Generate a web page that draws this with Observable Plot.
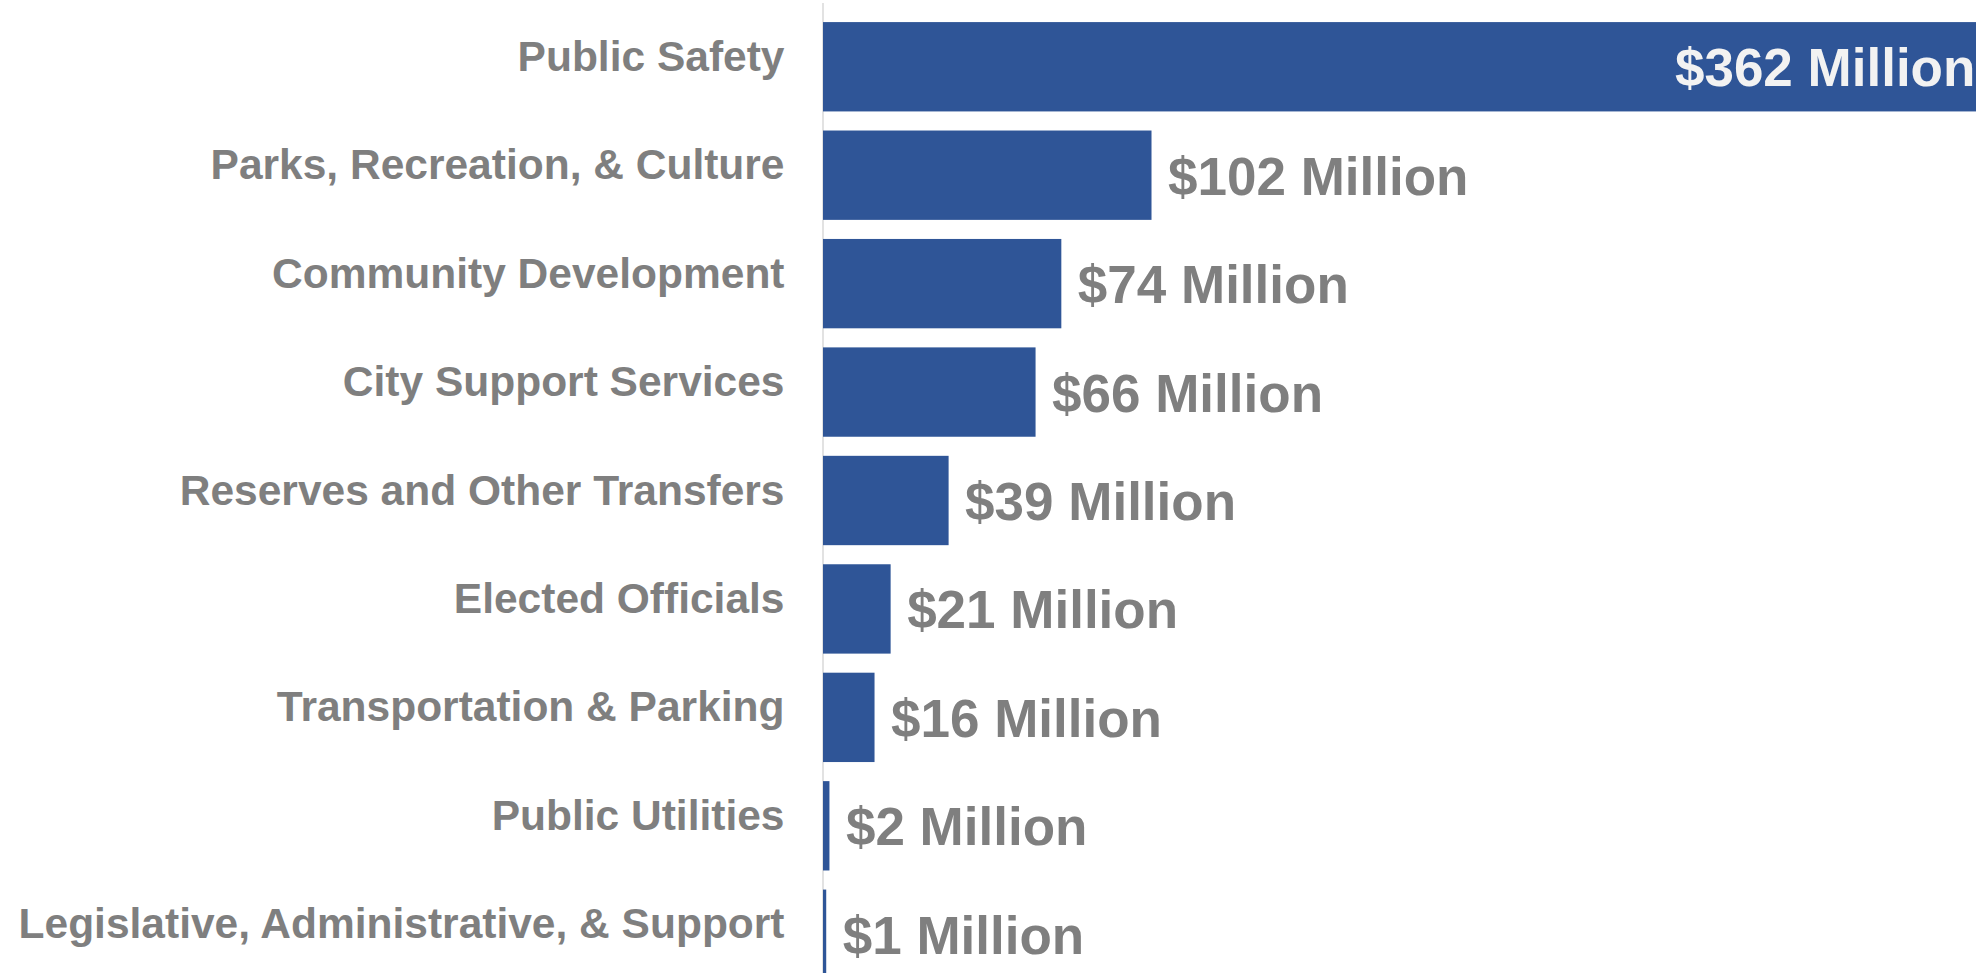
<!DOCTYPE html>
<html><head><meta charset="utf-8">
<script src="https://cdn.jsdelivr.net/npm/d3@7"></script>
<script src="https://cdn.jsdelivr.net/npm/@observablehq/plot@0.6"></script>
<style>
html,body{margin:0;padding:0;background:#fff;overflow:hidden;}
#chart{width:1976px;height:973px;overflow:hidden;}
#chart svg{display:block;}
</style></head><body><div id="chart"></div>
<script>
const categories = [
  "Public Safety",
  "Parks, Recreation, & Culture",
  "Community Development",
  "City Support Services",
  "Reserves and Other Transfers",
  "Elected Officials",
  "Transportation & Parking",
  "Public Utilities",
  "Legislative, Administrative, & Support"
];
const values = [362, 102, 74, 66, 39, 21, 16, 2, 1];
const unitLabel = "Million";

const data = categories.map((c, i) => ({category: c, value: values[i]}));
const maxV = d3.max(values);
const FONT = "'Liberation Sans', Arial, Helvetica, sans-serif";
const fmt = d => `$${d.value} ${unitLabel}`;

const chart = Plot.plot({
  width: 1976,
  height: 998,
  marginLeft: 823,
  marginRight: 0,
  marginTop: 3,
  marginBottom: 0,
  style: {fontFamily: FONT, background: "white"},
  x: {domain: [0, 358], axis: null},
  y: {domain: categories, padding: 0.176, round: false, axis: null},
  marks: [
    Plot.ruleX([0], {stroke: "#d9d9d9", strokeWidth: 1.5, dx: -0.5}),
    Plot.barX(data, {x: "value", y: "category", fill: "#2f5597"}),
    Plot.text(data, {
      y: "category", text: "category", frameAnchor: "left", textAnchor: "end",
      dx: -39, dy: -10, fontSize: 42.5, fontWeight: "bold", fill: "#7f7f7f"
    }),
    Plot.text(data.filter(d => d.value !== maxV), {
      x: "value", y: "category", text: fmt, textAnchor: "start",
      dx: 16, dy: 2, fontSize: 53, fontWeight: "bold", fill: "#7f7f7f"
    }),
    Plot.text(data.filter(d => d.value === maxV), {
      x: "value", y: "category", text: fmt, textAnchor: "end",
      dx: -14, dy: 2, fontSize: 53, fontWeight: "bold", fill: "#f2f2f2"
    })
  ]
});
document.getElementById("chart").appendChild(chart);
</script>
</body></html>
